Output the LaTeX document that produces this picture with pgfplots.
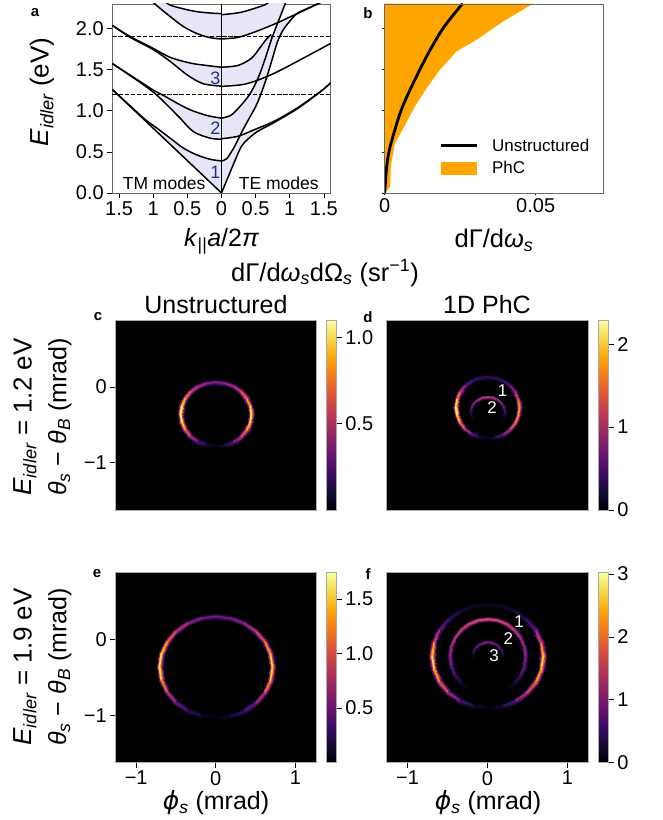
\documentclass[border=0pt]{standalone}
\usepackage{fontspec}
\usepackage{pgfplots}
\usepackage{pgfplotstable}
\pgfplotsset{compat=1.18}
\setmainfont{Liberation Sans}
\newfontfamily\djv{DejaVu Sans}
\newcommand\fs[1]{\fontsize{#1}{#1}\selectfont}
\newcommand\sbs[1]{\textsubscript{#1}}
\definecolor{bandfill}{RGB}{230,230,248}
\definecolor{phc}{RGB}{255,165,0}
\definecolor{navyn}{RGB}{35,50,125}
\definecolor{frameg}{RGB}{105,105,105}
\definecolor{frameh}{RGB}{170,170,170}
\pgfplotsset{
  colormap={inferno}{rgb255=(0,0,4) rgb255=(22,11,57) rgb255=(66,10,104) rgb255=(106,23,110) rgb255=(147,38,103) rgb255=(188,55,84) rgb255=(221,81,58) rgb255=(243,120,25) rgb255=(252,165,10) rgb255=(246,215,70) rgb255=(252,255,164)},
  base/.style={scale only axis, tick align=outside, major tick length=5pt, tick pos=left,
    every tick/.style={black,line width=.7pt}, tick label style={font=\fs{20}},
    axis line style={line width=.9pt}},
  hm/.style={base, width=201pt, height=190pt, xmin=-1.262, xmax=1.262, ymin=-1.63, ymax=.89,
    axis background/.style={fill=black}, axis line style={draw=frameh,line width=.8pt},
    xtick={-1,0,1}, ytick={-1,0}, xticklabels={−1,0,1}, yticklabels={−1,0}, axis on top,
    colormap name=inferno, point meta min=0, colorbar},
  cb/.style={colorbar style={width=10.3pt, xshift=1.3pt, major tick length=5pt, tick align=outside, ytick pos=right,
    tick label style={font=\fs{20}}, axis line style={draw=frameh,line width=.8pt},
    every tick/.style={black,line width=.7pt}, #1}},
}
\newcommand\ringplot[1]{%
  \addplot[surf,shader=interp,mesh/cols=3,point meta=explicit,forget plot] table[x=x,y=y,meta=m]{#1};
  \addplot[mesh,point meta=explicit,line width=1.3pt,forget plot,line cap=round,filter discard warning=false,unbounded coords=discard,x filter/.expression={mod(\coordindex,3)==1 ? x : nan}] table[x=x,y=y,meta=m]{#1};
}
\pgfplotstableread[row sep=\\]{
x y m\\
0 -.735 0\\ 0 -.78 0\\ 0 -.825 0\\
.104 -.722 0\\ .115 -.766 .12\\ .127 -.809 0\\
.2 -.684 0\\ .223 -.723 .32\\ .245 -.762 0\\
.283 -.624 0\\ .315 -.656 .55\\ .346 -.688 0\\
.346 -.546 0\\ .385 -.569 .8\\ .424 -.591 0\\
.386 -.455 0\\ .43 -.467 1.0\\ .473 -.478 0\\
.40 -.357 0\\ .445 -.357 1.05\\ .49 -.357 0\\
.386 -.259 0\\ .43 -.247 .95\\ .473 -.236 0\\
.346 -.168 0\\ .385 -.145 .8\\ .424 -.123 0\\
.283 -.09 0\\ .315 -.058 .62\\ .346 -.026 0\\
.2 -.03 0\\ .223 .009 .5\\ .245 .048 0\\
.104 .008 0\\ .115 .052 .42\\ .127 .095 0\\
0 .021 0\\ 0 .066 .38\\ 0 .111 0\\
-.104 .008 0\\ -.115 .052 .42\\ -.127 .095 0\\
-.2 -.03 0\\ -.223 .009 .5\\ -.245 .048 0\\
-.283 -.09 0\\ -.315 -.058 .62\\ -.346 -.026 0\\
-.346 -.168 0\\ -.385 -.145 .82\\ -.424 -.123 0\\
-.386 -.259 0\\ -.43 -.247 1.0\\ -.473 -.236 0\\
-.40 -.357 0\\ -.445 -.357 1.08\\ -.49 -.357 0\\
-.386 -.455 0\\ -.43 -.467 1.02\\ -.473 -.478 0\\
-.346 -.546 0\\ -.385 -.569 .8\\ -.424 -.591 0\\
-.283 -.624 0\\ -.315 -.656 .55\\ -.346 -.688 0\\
-.2 -.684 0\\ -.223 -.723 .32\\ -.245 -.762 0\\
-.104 -.722 0\\ -.115 -.766 .12\\ -.127 -.809 0\\
0 -.735 0\\ 0 -.78 0\\ 0 -.825 0\\
}\ringc
\pgfplotstableread[row sep=\\]{
x y m\\
0 -.64 0\\ 0 -.68 0\\ 0 -.72 0\\
.093 -.627 0\\ .104 -.666 .3\\ .114 -.705 0\\
.18 -.59 0\\ .2 -.625 .75\\ .22 -.66 0\\
.255 -.532 0\\ .283 -.56 1.2\\ .311 -.588 0\\
.312 -.455 0\\ .346 -.475 1.55\\ .381 -.495 0\\
.348 -.366 0\\ .386 -.376 1.8\\ .425 -.387 0\\
.36 -.27 0\\ .40 -.27 1.85\\ .44 -.27 0\\
.348 -.174 0\\ .386 -.164 1.5\\ .425 -.153 0\\
.312 -.085 0\\ .346 -.065 1.0\\ .381 -.045 0\\
.255 -.008 0\\ .283 .02 .65\\ .311 .048 0\\
.18 .05 0\\ .2 .085 .45\\ .22 .12 0\\
.093 .087 0\\ .104 .126 .38\\ .114 .165 0\\
0 .10 0\\ 0 .14 .35\\ 0 .18 0\\
-.093 .087 0\\ -.104 .126 .38\\ -.114 .165 0\\
-.18 .05 0\\ -.2 .085 .45\\ -.22 .12 0\\
-.255 -.008 0\\ -.283 .02 .7\\ -.311 .048 0\\
-.312 -.085 0\\ -.346 -.065 1.2\\ -.381 -.045 0\\
-.348 -.174 0\\ -.386 -.164 1.9\\ -.425 -.153 0\\
-.36 -.27 0\\ -.40 -.27 2.2\\ -.44 -.27 0\\
-.348 -.366 0\\ -.386 -.376 2.1\\ -.425 -.387 0\\
-.312 -.455 0\\ -.346 -.475 1.7\\ -.381 -.495 0\\
-.255 -.532 0\\ -.283 -.56 1.25\\ -.311 -.588 0\\
-.18 -.59 0\\ -.2 -.625 .75\\ -.22 -.66 0\\
-.093 -.627 0\\ -.104 -.666 .3\\ -.114 -.705 0\\
0 -.64 0\\ 0 -.68 0\\ 0 -.72 0\\
}\ringdo
\pgfplotstableread[row sep=\\]{
x y m\\
.16 -.415 0\\ .186 -.43 0\\ .212 -.445 0\\
.179 -.374 0\\ .208 -.382 .2\\ .237 -.39 0\\
.185 -.33 0\\ .215 -.33 .4\\ .245 -.33 0\\
.179 -.286 0\\ .208 -.278 .6\\ .237 -.27 0\\
.16 -.245 0\\ .186 -.23 .75\\ .212 -.215 0\\
.131 -.21 0\\ .152 -.189 .9\\ .173 -.167 0\\
.093 -.183 0\\ .108 -.157 1.05\\ .123 -.131 0\\
.048 -.166 0\\ .056 -.137 1.15\\ .063 -.108 0\\
0 -.16 0\\ 0 -.13 1.2\\ 0 -.10 0\\
-.048 -.166 0\\ -.056 -.137 1.15\\ -.063 -.108 0\\
-.093 -.183 0\\ -.108 -.157 1.05\\ -.123 -.131 0\\
-.131 -.21 0\\ -.152 -.189 .9\\ -.173 -.167 0\\
-.16 -.245 0\\ -.186 -.23 .75\\ -.212 -.215 0\\
-.179 -.286 0\\ -.208 -.278 .6\\ -.237 -.27 0\\
-.185 -.33 0\\ -.215 -.33 .4\\ -.245 -.33 0\\
-.179 -.374 0\\ -.208 -.382 .2\\ -.237 -.39 0\\
-.16 -.415 0\\ -.186 -.43 0\\ -.212 -.445 0\\
}\ringdi
\pgfplotstableread[row sep=\\]{
x y m\\
0 -.985 0\\ 0 -1.03 0\\ 0 -1.075 0\\
.172 -.964 0\\ .184 -1.007 .12\\ .196 -1.051 0\\
.333 -.901 0\\ .355 -.94 .35\\ .378 -.979 0\\
.47 -.802 0\\ .502 -.834 .6\\ .534 -.866 0\\
.576 -.673 0\\ .615 -.695 .95\\ .654 -.718 0\\
.642 -.522 0\\ .686 -.534 1.45\\ .729 -.545 0\\
.665 -.36 0\\ .71 -.36 1.65\\ .755 -.36 0\\
.642 -.198 0\\ .686 -.186 1.5\\ .729 -.175 0\\
.576 -.047 0\\ .615 -.025 1.15\\ .654 -.002 0\\
.47 .082 0\\ .502 .114 .9\\ .534 .146 0\\
.333 .181 0\\ .355 .22 .7\\ .378 .259 0\\
.172 .244 0\\ .184 .287 .58\\ .196 .331 0\\
0 .265 0\\ 0 .31 .52\\ 0 .355 0\\
-.172 .244 0\\ -.184 .287 .58\\ -.196 .331 0\\
-.333 .181 0\\ -.355 .22 .7\\ -.378 .259 0\\
-.47 .082 0\\ -.502 .114 .9\\ -.534 .146 0\\
-.576 -.047 0\\ -.615 -.025 1.2\\ -.654 -.002 0\\
-.642 -.198 0\\ -.686 -.186 1.55\\ -.729 -.175 0\\
-.665 -.36 0\\ -.71 -.36 1.7\\ -.755 -.36 0\\
-.642 -.522 0\\ -.686 -.534 1.45\\ -.729 -.545 0\\
-.576 -.673 0\\ -.615 -.695 .95\\ -.654 -.718 0\\
-.47 -.802 0\\ -.502 -.834 .6\\ -.534 -.866 0\\
-.333 -.901 0\\ -.355 -.94 .35\\ -.378 -.979 0\\
-.172 -.964 0\\ -.184 -1.007 .12\\ -.196 -1.051 0\\
0 -.985 0\\ 0 -1.03 0\\ 0 -1.075 0\\
}\ringe
\pgfplotstableread[row sep=\\]{
x y m\\
0 -.855 0\\ 0 -.9 0\\ 0 -.945 0\\
.168 -.833 0\\ .18 -.877 .3\\ .192 -.92 0\\
.325 -.769 0\\ .348 -.808 .9\\ .37 -.847 0\\
.46 -.667 0\\ .491 -.699 1.5\\ .523 -.731 0\\
.563 -.535 0\\ .602 -.558 2.1\\ .641 -.58 0\\
.628 -.381 0\\ .671 -.392 2.5\\ .715 -.404 0\\
.65 -.215 0\\ .695 -.215 2.8\\ .74 -.215 0\\
.628 -.049 0\\ .671 -.038 2.0\\ .715 -.026 0\\
.563 .105 0\\ .602 .128 1.0\\ .641 .15 0\\
.46 .237 0\\ .491 .269 .55\\ .523 .301 0\\
.325 .339 0\\ .348 .378 .3\\ .37 .417 0\\
.168 .403 0\\ .18 .447 .18\\ .192 .49 0\\
0 .425 0\\ 0 .47 .14\\ 0 .515 0\\
-.168 .403 0\\ -.18 .447 .18\\ -.192 .49 0\\
-.325 .339 0\\ -.348 .378 .3\\ -.37 .417 0\\
-.46 .237 0\\ -.491 .269 .55\\ -.523 .301 0\\
-.563 .105 0\\ -.602 .128 1.0\\ -.641 .15 0\\
-.628 -.049 0\\ -.671 -.038 2.0\\ -.715 -.026 0\\
-.65 -.215 0\\ -.695 -.215 2.9\\ -.74 -.215 0\\
-.628 -.381 0\\ -.671 -.392 2.6\\ -.715 -.404 0\\
-.563 -.535 0\\ -.602 -.558 2.1\\ -.641 -.58 0\\
-.46 -.667 0\\ -.491 -.699 1.5\\ -.523 -.731 0\\
-.325 -.769 0\\ -.348 -.808 .9\\ -.37 -.847 0\\
-.168 -.833 0\\ -.18 -.877 .3\\ -.192 -.92 0\\
0 -.855 0\\ 0 -.9 0\\ 0 -.945 0\\
}\ringfo
\pgfplotstableread[row sep=\\]{
x y m\\
.218 -.614 0\\ .238 -.649 0\\ .258 -.683 0\\
.308 -.542 0\\ .336 -.57 .3\\ .364 -.598 0\\
.377 -.448 0\\ .411 -.468 .65\\ .446 -.488 0\\
.42 -.338 0\\ .459 -.348 .95\\ .497 -.359 0\\
.435 -.22 0\\ .475 -.22 1.15\\ .515 -.22 0\\
.42 -.102 0\\ .459 -.092 1.25\\ .497 -.081 0\\
.377 .008 0\\ .411 .028 1.4\\ .446 .048 0\\
.308 .102 0\\ .336 .13 1.55\\ .364 .158 0\\
.218 .174 0\\ .238 .209 1.7\\ .258 .243 0\\
.113 .22 0\\ .123 .258 1.8\\ .133 .297 0\\
0 .235 0\\ 0 .275 1.85\\ 0 .315 0\\
-.113 .22 0\\ -.123 .258 1.8\\ -.133 .297 0\\
-.218 .174 0\\ -.238 .209 1.7\\ -.258 .243 0\\
-.308 .102 0\\ -.336 .13 1.55\\ -.364 .158 0\\
-.377 .008 0\\ -.411 .028 1.4\\ -.446 .048 0\\
-.42 -.102 0\\ -.459 -.092 1.25\\ -.497 -.081 0\\
-.435 -.22 0\\ -.475 -.22 1.15\\ -.515 -.22 0\\
-.42 -.338 0\\ -.459 -.348 .95\\ -.497 -.359 0\\
-.377 -.448 0\\ -.411 -.468 .65\\ -.446 -.488 0\\
-.308 -.542 0\\ -.336 -.57 .3\\ -.364 -.598 0\\
-.218 -.614 0\\ -.238 -.649 0\\ -.258 -.683 0\\
}\ringfm
\pgfplotstableread[row sep=\\]{
x y m\\
.152 -.237 0\\ .179 -.244 0\\ .206 -.251 0\\
.157 -.2 0\\ .185 -.2 .3\\ .213 -.2 0\\
.152 -.163 0\\ .179 -.156 .55\\ .206 -.149 0\\
.136 -.129 0\\ .16 -.115 .7\\ .184 -.101 0\\
.111 -.1 0\\ .131 -.08 .85\\ .151 -.06 0\\
.079 -.077 0\\ .093 -.053 .95\\ .107 -.029 0\\
.041 -.063 0\\ .048 -.036 1.0\\ .055 -.009 0\\
0 -.058 0\\ 0 -.03 1.05\\ 0 -.002 0\\
-.041 -.063 0\\ -.048 -.036 1.0\\ -.055 -.009 0\\
-.079 -.077 0\\ -.093 -.053 .95\\ -.107 -.029 0\\
-.111 -.1 0\\ -.131 -.08 .85\\ -.151 -.06 0\\
-.136 -.129 0\\ -.16 -.115 .7\\ -.184 -.101 0\\
-.152 -.163 0\\ -.179 -.156 .55\\ -.206 -.149 0\\
-.157 -.2 0\\ -.185 -.2 .3\\ -.213 -.2 0\\
-.152 -.237 0\\ -.179 -.244 0\\ -.206 -.251 0\\
}\ringfi
\begin{document}
\begin{tikzpicture}
\path[use as bounding box] (0pt,0pt) rectangle (662pt,820pt);
% panel a
\begin{axis}[base, at={(112.3pt,627pt)}, anchor=south west, width=218.4pt, height=189pt,
  xmin=-1.6, xmax=1.6, ymin=0, ymax=2.3,
  axis line style={draw=frameg},
  xtick={-1.5,-1,-.5,0,.5,1,1.5}, xticklabels={1.5,1,0.5,0,0.5,1,1.5},
  ytick={0,.5,1,1.5,2}, yticklabels={0.0,0.5,1.0,1.5,2.0}]
% shaded bands, left
\addplot[fill=bandfill,draw=none] coordinates {(0,0)(-1.58,1.244)(-1.14,.91)(-.946,.79)(-.75,.666)(-.555,.545)(-.36,.463)(-.165,.41)(0,.39)} -- cycle;
\addplot[fill=bandfill,draw=none] coordinates {(0,.655)(-.165,.667)(-.41,.745)(-.605,.91)(-.8,1.073)(-.97,1.207)(-1.2,1.35)(-.995,1.25)(-.849,1.187)(-.653,1.094)(-.458,1.012)(-.214,.943)(0,.91)} -- cycle;
\addplot[fill=bandfill,draw=none] coordinates {(0,1.30)(-.27,1.33)(-.5,1.435)(-.75,1.60)(-1,1.745)(-1.34,1.895)(-1,1.76)(-.75,1.65)(-.45,1.58)(-.2,1.55)(0,1.53)} -- cycle;
\addplot[fill=bandfill,draw=none] coordinates {(0,1.874)(-.165,1.89)(-.36,1.94)(-.555,2.024)(-.75,2.146)(-.97,2.296)(-1.1,2.4)(-.9,2.4)(-.776,2.296)(-.555,2.24)(-.36,2.207)(-.165,2.19)(0,2.183)} -- cycle;
% shaded bands, right
\addplot[fill=bandfill,draw=none] coordinates {(0,0)(.19,.38)(.29,.565)(.386,.655)(.53,.75)(.776,.86)(.48,.77)(.25,.69)(.19,.565)(.08,.42)(0,.39)} -- cycle;
\addplot[fill=bandfill,draw=none] coordinates {(0,.66)(.25,.69)(.29,.73)(.386,.88)(.5,1.05)(.576,1.2)(.66,1.40)(.74,1.62)(.82,1.84)(.90,1.98)(1.0,2.09)(1.04,2.13)(.82,2.07)(.805,2.03)(.73,1.865)(.634,1.62)(.537,1.40)(.415,1.203)(.288,1.07)(.146,.95)(0,.91)} -- cycle;
\addplot[fill=bandfill,draw=none] coordinates {(0,1.297)(.293,1.317)(.51,1.366)(.537,1.40)(.634,1.62)(.73,1.865)(.73,1.93)(.66,1.874)(.56,1.764)(.44,1.64)(.244,1.553)(0,1.53)} -- cycle;
\addplot[fill=bandfill,draw=none] coordinates {(0,1.874)(.244,1.894)(.488,1.96)(.78,2.057)(.82,2.07)(.927,2.29)(.98,2.4)(.72,2.4)(.634,2.29)(.29,2.2)(0,2.17)} -- cycle;
% reference lines
\addplot[black,line width=.6pt] coordinates {(0,0)(0,2.3)};
\addplot[black,line width=.8pt,dash pattern=on 4.5pt off 1.6pt] coordinates {(-1.6,1.2)(1.6,1.2)};
\addplot[black,line width=.8pt,dash pattern=on 4.5pt off 1.6pt] coordinates {(-1.6,1.9)(1.6,1.9)};
% TM modes
\addplot[black,line width=1.5pt] coordinates {(0,0)(-1.6,1.26)};
\addplot[black,line width=1.5pt,smooth] coordinates {(0,.39)(-.165,.41)(-.36,.463)(-.555,.545)(-.75,.666)(-.946,.79)(-1.14,.91)(-1.6,1.26)};
\addplot[black,line width=1.5pt,smooth] coordinates {(0,.655)(-.165,.667)(-.41,.745)(-.605,.91)(-.8,1.073)(-.97,1.207)(-1.2,1.35)(-1.6,1.575)};
\addplot[black,line width=1.5pt,smooth] coordinates {(0,.91)(-.214,.943)(-.458,1.012)(-.653,1.094)(-.849,1.187)(-.995,1.25)(-1.2,1.36)(-1.6,1.575)};
\addplot[black,line width=1.5pt,smooth] coordinates {(0,1.30)(-.27,1.33)(-.5,1.435)(-.75,1.60)(-1,1.745)(-1.34,1.895)(-1.6,2.04)};
\addplot[black,line width=1.5pt,smooth] coordinates {(0,1.53)(-.2,1.55)(-.45,1.58)(-.75,1.65)(-1,1.76)(-1.34,1.905)(-1.6,2.04)};
\addplot[black,line width=1.5pt,smooth] coordinates {(0,1.874)(-.165,1.89)(-.36,1.94)(-.555,2.024)(-.75,2.146)(-.97,2.296)(-1.1,2.4)};
\addplot[black,line width=1.5pt,smooth] coordinates {(0,2.183)(-.165,2.19)(-.36,2.207)(-.555,2.24)(-.776,2.296)(-.9,2.4)};
% TE modes
\addplot[black,line width=1.5pt,smooth] coordinates {(0,0)(.19,.38)(.29,.565)(.386,.655)(.53,.75)(.776,.86)(1.12,1.03)(1.46,1.24)(1.6,1.34)};
\addplot[black,line width=1.5pt,smooth] coordinates {(0,.39)(.08,.42)(.19,.565)(.29,.73)(.386,.88)(.5,1.05)(.576,1.2)(.66,1.40)(.74,1.62)(.82,1.84)(.90,1.98)(1.0,2.09)(1.12,2.19)(1.435,2.31)};
\addplot[black,line width=1.5pt,smooth] coordinates {(0,.66)(.24,.69)(.48,.77)(.776,.875)(1.12,1.04)(1.46,1.24)(1.6,1.34)};
\addplot[black,line width=1.5pt,smooth] coordinates {(0,.91)(.146,.95)(.288,1.07)(.415,1.203)(.537,1.40)(.634,1.62)(.73,1.865)(.805,2.03)(.927,2.29)(.98,2.42)};
\addplot[black,line width=1.5pt,smooth] coordinates {(0,1.297)(.293,1.317)(.51,1.366)(.78,1.46)(1.05,1.575)(1.6,1.82)};
\addplot[black,line width=1.5pt,smooth] coordinates {(0,1.53)(.244,1.553)(.44,1.64)(.56,1.764)(.66,1.874)(.73,1.93)};
\addplot[black,line width=1.5pt,smooth] coordinates {(0,1.874)(.244,1.894)(.488,1.96)(.78,2.057)(1.05,2.16)(1.435,2.31)(1.5,2.34)};
\addplot[black,line width=1.5pt,smooth] coordinates {(0,2.17)(.29,2.2)(.634,2.29)(.72,2.35)};
\node[navyn,font=\fs{18}] at (axis cs:-.09,.25) {1};
\node[navyn,font=\fs{18}] at (axis cs:-.09,.79) {2};
\node[navyn,font=\fs{18}] at (axis cs:-.09,1.4) {3};
\node[font=\fs{17.5}] at (axis cs:-.84,.12) {TM modes};
\node[font=\fs{17.5}] at (axis cs:.84,.12) {TE modes};
\draw[black,line width=.9pt] (rel axis cs:0,0)--(rel axis cs:1,0);
\end{axis}
% panel b
\begin{axis}[base, at={(384.7pt,627pt)}, anchor=south west, width=218.6pt, height=189pt,
  xmin=0, xmax=.0724, ymin=0, ymax=2.3, axis line style={draw=frameg}, axis on top,
  scaled x ticks=false,
  xtick={0,.05}, xticklabels={0,0.05}, ytick={0,.5,1,1.5,2}, yticklabels={},
  major tick length=2.5pt, reverse legend,
  legend style={at={(.235,.19)},anchor=west,draw=none,fill=none,font=\fs{17},row sep=5pt,
    /tikz/every odd column/.append style={column sep=12pt}},
  legend cell align=left]
\addplot[fill=phc,draw=none,
  legend image code/.code={\fill[phc] (0pt,-6.5pt) rectangle (36pt,6.5pt);}]
  coordinates {(0,0)(.0018,.077)(.002,.32)(.0034,.606)(.0062,.79)(.010,1.053)(.0139,1.276)(.0183,1.5)(.0238,1.724)(.0305,1.866)(.0393,2.09)(.0492,2.305)(0,2.305)} -- cycle;
\addlegendentry{PhC}
\addplot[black,line width=2.8pt,smooth,
  legend image code/.code={\draw[black,line width=2.8pt] (0pt,0pt)--(36pt,0pt);}]
  coordinates {(0,0)(.00066,.32)(.0018,.565)(.0051,.97)(.0084,1.256)(.0139,1.663)(.0194,2.008)(.0258,2.305)};
\addlegendentry{Unstructured}
\draw[black,line width=.9pt] (rel axis cs:0,0)--(rel axis cs:1,0);
\draw[black,line width=.9pt] (rel axis cs:0,0)--(rel axis cs:0,1);
\end{axis}
% panel c
\begin{axis}[hm, at={(115.3pt,310pt)}, anchor=south west, point meta max=1.1,
  xtick=\empty, cb={ytick={.5,1}, yticklabels={0.5,1.0}}]
\ringplot{\ringc}
\end{axis}
% panel d
\begin{axis}[hm, at={(386.7pt,310pt)}, anchor=south west, width=201.6pt, point meta max=2.29,
  xtick=\empty, ytick=\empty, cb={ytick={0,1,2}, yticklabels={0,1,2}}]
\ringplot{\ringdo}
\ringplot{\ringdi}
\end{axis}
% panel e
\begin{axis}[hm, at={(115.3pt,57.3pt)}, anchor=south west, point meta max=1.74,
  cb={ytick={.5,1,1.5}, yticklabels={0.5,1.0,1.5}}]
\ringplot{\ringe}
\end{axis}
% panel f
\begin{axis}[hm, at={(386.7pt,57.3pt)}, anchor=south west, width=201.6pt, point meta max=3.02,
  ytick=\empty, cb={ytick={0,1,2,3}, yticklabels={0,1,2,3}}]
\ringplot{\ringfo}
\ringplot{\ringfm}
\ringplot{\ringfi}
\end{axis}
% white labels
\node[white,font=\fs{17}] at (502.7pt,429pt) {1};
\node[white,font=\fs{17}] at (492pt,412.3pt) {2};
\node[white,font=\fs{17}] at (519pt,198pt) {1};
\node[white,font=\fs{17}] at (508.3pt,181.3pt) {2};
\node[white,font=\fs{17}] at (494pt,164.3pt) {3};
% panel letters
\node[font=\bfseries\fs{15}] at (35pt,807pt) {a};
\node[font=\bfseries\fs{15}] at (368pt,807pt) {b};
\node[font=\bfseries\fs{15}] at (98pt,503pt) {c};
\node[font=\bfseries\fs{15}] at (368pt,503pt) {d};
\node[font=\bfseries\fs{15}] at (97pt,246pt) {e};
\node[font=\bfseries\fs{15}] at (368pt,246pt) {f};
% axis titles
\node[font=\fs{26},rotate=90] at (42pt,728pt) {\textit{E}\sbs{\itshape idler} (eV)};
\node[font=\fs{25}] at (221.7pt,579pt) {\textit{k}\sbs{||}\textit{a}/2\textit{π}};
\node[font=\fs{25.5}] at (494pt,580pt) {dΓ/d\textit{ω}\sbs{\itshape s}};
\node[font=\fs{25.5}] at (325pt,547pt) {dΓ/d\textit{ω}\sbs{\itshape s}dΩ\sbs{\itshape s} (sr\textsuperscript{−1})};
\node[font=\fs{25}] at (216pt,515pt) {Unstructured};
\node[font=\fs{25}] at (487pt,515pt) {1D PhC};
\node[font=\fs{26},rotate=90] at (25pt,403pt) {\textit{E}\sbs{\itshape idler} = 1.2 eV};
\node[font=\fs{25},rotate=90] at (60pt,403pt) {\textit{θ}\sbs{\itshape s} − \textit{θ}\sbs{\itshape B} (mrad)};
\node[font=\fs{26},rotate=90] at (25pt,153pt) {\textit{E}\sbs{\itshape idler} = 1.9 eV};
\node[font=\fs{25},rotate=90] at (60pt,153pt) {\textit{θ}\sbs{\itshape s} − \textit{θ}\sbs{\itshape B} (mrad)};
\node[font=\fs{25}] at (216pt,17.5pt) {{\djv\itshape ϕ}\sbs{\itshape s} (mrad)};
\node[font=\fs{25}] at (488pt,17.5pt) {{\djv\itshape ϕ}\sbs{\itshape s} (mrad)};
\end{tikzpicture}
\end{document}
